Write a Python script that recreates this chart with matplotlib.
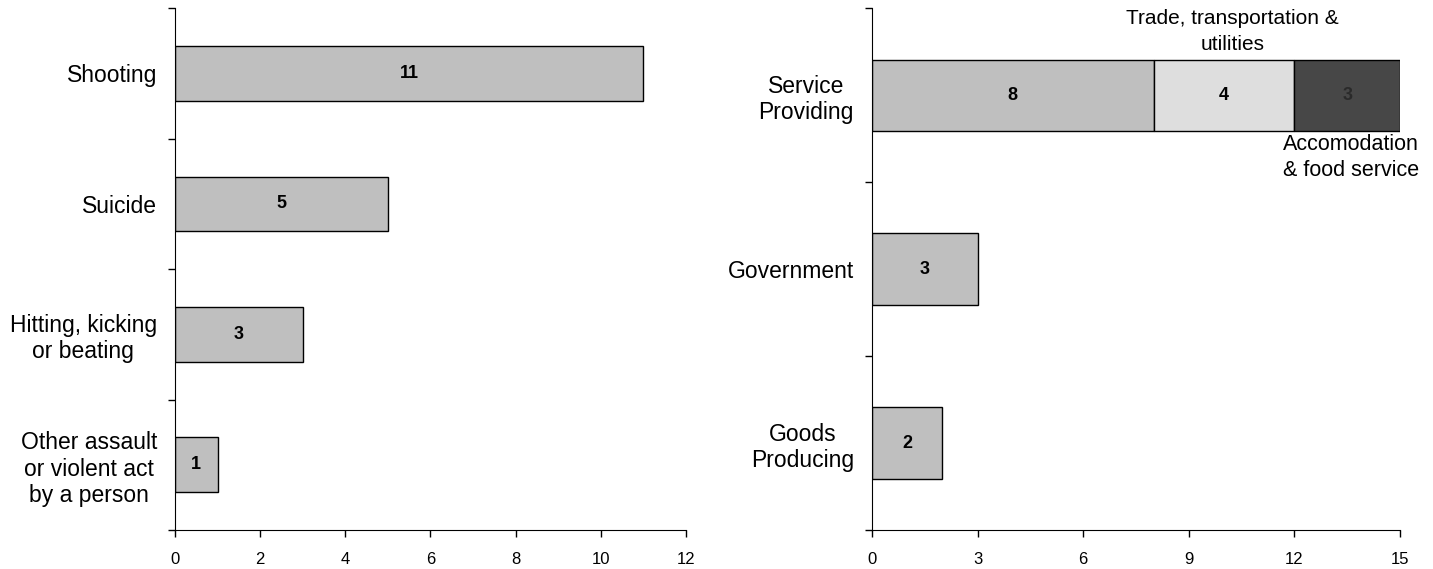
import matplotlib.pyplot as plt

plt.rcParams['font.family'] = ['Liberation Sans', 'DejaVu Sans']

# left panel
event_labels = ["Shooting", "Suicide", "Hitting, kicking\nor beating",
                "Other assault\nor violent act\nby a person"]
event_counts = [11, 5, 3, 1]

# right panel
industry_labels = ["Service\nProviding", "Government", "Goods\nProducing"]
industry_counts = [8, 3, 2]
trade_count = [4, 0, 0]
accom_count = [3, 0, 0]

fill_main = "#bfbfbf"
fill_trade = "#dedede"
fill_accom = "#474747"


def style_axes(ax, n, xmax, xstep):
    ax.set_ylim(0, n)
    ax.set_xlim(0, xmax)
    ax.spines["top"].set_visible(False)
    ax.spines["right"].set_visible(False)
    ax.set_yticks(range(n + 1))
    ax.set_yticklabels([])
    ax.set_xticks(range(0, xmax + 1, xstep))
    ax.tick_params(axis="both", direction="out", length=5, width=1, labelsize=12)
    ax.tick_params(axis="x", pad=11)


def category_labels(ax, ypos, labels):
    ax.set_yticks(ypos, minor=True)
    ax.set_yticklabels(labels, minor=True, ha="right", multialignment="center",
                       linespacing=1.2)
    ax.tick_params(axis="y", which="minor", length=0, labelsize=16.5, pad=13)


fig = plt.figure(figsize=(14.33, 5.69), dpi=100)

# --- left chart ---
ax1 = fig.add_axes([0.1221, 0.0685, 0.3566, 0.917])
n1 = len(event_labels)
ypos1 = [n1 - 0.5 - i for i in range(n1)]
ax1.barh(ypos1, event_counts, height=0.42, color=fill_main, edgecolor="black", linewidth=1)
for y, v in zip(ypos1, event_counts):
    ax1.text(v / 2, y, str(v), ha="center", va="center", fontsize=13, fontweight="bold")
style_axes(ax1, n1, 12, 2)
category_labels(ax1, ypos1, event_labels)

# --- right chart ---
ax2 = fig.add_axes([0.6085, 0.0685, 0.3685, 0.917])
n2 = len(industry_labels)
ypos2 = [n2 - 0.5 - i for i in range(n2)]
ax2.barh(ypos2, industry_counts, height=0.41, color=fill_main, edgecolor="black", linewidth=1)
ax2.barh(ypos2[0], trade_count[0], left=industry_counts[0], height=0.41,
         color=fill_trade, edgecolor="black", linewidth=1)
ax2.barh(ypos2[0], accom_count[0], left=industry_counts[0] + trade_count[0], height=0.41,
         color=fill_accom, edgecolor="black", linewidth=1)
for y, v in zip(ypos2, industry_counts):
    ax2.text(v / 2, y, str(v), ha="center", va="center", fontsize=13, fontweight="bold")
ax2.text(industry_counts[0] + trade_count[0] / 2, ypos2[0], str(trade_count[0]),
         ha="center", va="center", fontsize=13, fontweight="bold")
ax2.text(industry_counts[0] + trade_count[0] + accom_count[0] / 2, ypos2[0], str(accom_count[0]),
         ha="center", va="center", fontsize=13, fontweight="bold", color="#2a2a2a")
style_axes(ax2, n2, 15, 3)
category_labels(ax2, ypos2, industry_labels)

# segment call-outs
ax2.text(10.25, 2.865, "Trade, transportation &\nutilities",
         ha="center", va="center", fontsize=15, linespacing=1.45)
ax2.text(13.6, 2.144, "Accomodation\n& food service", ha="center", va="center",
         fontsize=15.5, linespacing=1.3, clip_on=False)

fig.savefig("out.png", dpi=100)
